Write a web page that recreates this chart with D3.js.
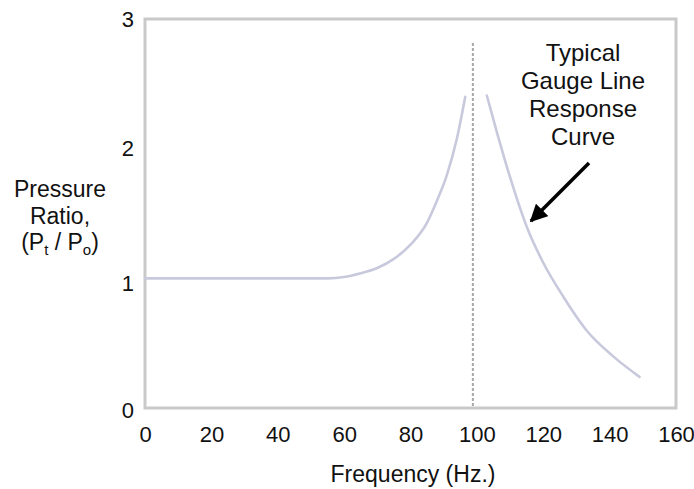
<!DOCTYPE html>
<html>
<head>
<meta charset="utf-8">
<script src="https://cdn.jsdelivr.net/npm/d3@7"></script>
<style>
  html, body { margin: 0; padding: 0; background: #fff; }
  svg { display: block; }
  text { font-family: "Liberation Sans", Arial, sans-serif; fill: #111; }
</style>
</head>
<body>
<svg id="chart" width="694" height="489"></svg>
<script>
// ---- data ----
const xTicks = [0, 20, 40, 60, 80, 100, 120, 140, 160];
const yTicks = [0, 1, 2, 3];
// below-resonance branch (Hz, ratio)
const lowFreq  = [0, 20, 40, 55, 60, 65, 70, 75, 80, 85, 88, 91, 94, 96.5];
const lowRatio = [1, 1, 1, 1, 1.01, 1.04, 1.08, 1.15, 1.26, 1.43, 1.6, 1.8, 2.08, 2.4];
// above-resonance branch
const highFreq  = [103, 106, 110, 115, 120, 126, 133, 141, 149];
const highRatio = [2.41, 2.13, 1.78, 1.40, 1.12, 0.86, 0.60, 0.40, 0.24];
const resonanceFreq = 100;
const annotationLines = ["Typical", "Gauge Line", "Response", "Curve"];

// ---- layout ----
const svg = d3.select("#chart");
const x = d3.scaleLinear().domain([0, 160]).range([145, 676]);
const y = d3.scaleLinear().domain([0, 3]).range([408, 19]);
const FONT = "'Liberation Sans', Arial, sans-serif";

// frame
svg.append("rect")
  .attr("x", x(0)).attr("y", y(3))
  .attr("width", x(160) - x(0)).attr("height", y(0) - y(3))
  .attr("fill", "none").attr("stroke", "#c9c9c9").attr("stroke-width", 3);

// resonance dashed line
svg.append("line")
  .attr("x1", x(resonanceFreq) - 4).attr("x2", x(resonanceFreq) - 4)
  .attr("y1", 43).attr("y2", y(0))
  .attr("stroke", "#a8a8a8").attr("stroke-width", 2)
  .attr("stroke-dasharray", "3,2");

// curves
const line = d3.line().x(d => x(d[0])).y(d => y(d[1])).curve(d3.curveMonotoneX);
const lowData = lowFreq.map((f, i) => [f, lowRatio[i]]);
const highData = highFreq.map((f, i) => [f, highRatio[i]]);
[lowData, highData].forEach(dd => {
  svg.append("path").datum(dd)
    .attr("d", line)
    .attr("fill", "none")
    .attr("stroke", "#c9c9dd")
    .attr("stroke-width", 2.6)
    .attr("stroke-linecap", "round");
});

// axes (labels only)
const xAxis = svg.append("g").attr("transform", "translate(0,426)")
  .call(d3.axisBottom(x).tickValues(xTicks).tickSize(0).tickPadding(0));
xAxis.select(".domain").remove();
xAxis.selectAll("text")
  .attr("font-size", 22).attr("dy", "0.71em")
  .style("font-family", FONT).attr("fill", "#111");

const yAxis = svg.append("g").attr("transform", "translate(134,0)")
  .call(d3.axisLeft(y).tickValues(yTicks).tickFormat(d3.format("d")).tickSize(0).tickPadding(0));
yAxis.select(".domain").remove();
yAxis.selectAll("text")
  .attr("font-size", 22)
  .style("font-family", FONT).attr("fill", "#111");
yAxis.selectAll(".tick").filter(d => d === 1).select("text").attr("dy", "0.55em");
yAxis.selectAll(".tick").filter(d => d === 0).select("text").attr("dy", "0.45em");

// x axis title
svg.append("text").attr("x", 413).attr("y", 482)
  .attr("text-anchor", "middle").attr("font-size", 23)
  .text("Frequency (Hz.)");

// y axis title
const yt = svg.append("text").attr("text-anchor", "middle").attr("font-size", 23);
yt.append("tspan").attr("x", 60).attr("y", 197).text("Pressure");
yt.append("tspan").attr("x", 60).attr("y", 224).text("Ratio,");
yt.append("tspan").attr("x", 60).attr("y", 250).text("(P");
yt.append("tspan").attr("font-size", 15).attr("dy", 5).text("t");
yt.append("tspan").attr("dy", -5).text(" / P");
yt.append("tspan").attr("font-size", 15).attr("dy", 5).text("o");
yt.append("tspan").attr("dy", -5).text(")");

// annotation
const ann = svg.append("text").attr("text-anchor", "middle").attr("font-size", 24);
annotationLines.forEach((s, i) => {
  ann.append("tspan").attr("x", 583).attr("y", 61 + i * 28).text(s);
});

// arrow
svg.append("defs").append("marker")
  .attr("id", "ah").attr("viewBox", "0 0 10 10")
  .attr("refX", 9).attr("refY", 5)
  .attr("markerWidth", 5).attr("markerHeight", 5)
  .attr("orient", "auto")
  .append("path").attr("d", "M0,0 L10,5 L0,10 z").attr("fill", "#000");
svg.append("line")
  .attr("x1", 589).attr("y1", 163).attr("x2", 531).attr("y2", 221)
  .attr("stroke", "#000").attr("stroke-width", 3.5)
  .attr("marker-end", "url(#ah)");
</script>
</body>
</html>
